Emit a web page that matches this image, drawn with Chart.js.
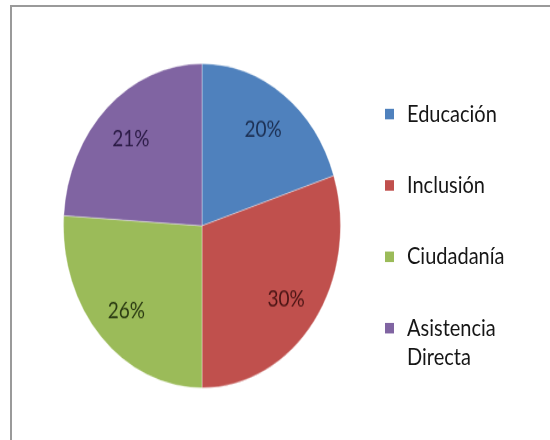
<!DOCTYPE html>
<html>
<head>
<meta charset="utf-8">
<script src="https://cdn.jsdelivr.net/npm/chart.js@4"></script>
<style>
  html, body { margin: 0; padding: 0; background: #fff; }
  body { width: 550px; height: 440px; position: relative; overflow: hidden; }
  #frame { position: absolute; left: 10px; top: 5px; width: 560px; height: 460px;
           border-top: 2px solid #9a9a9a; border-left: 2px solid #9a9a9a; }
  #stage { position: absolute; left: 0; top: 0; width: 550px; height: 376px;
           transform: scaleY(1.17); transform-origin: 0 0; }
  #pieBox { position: absolute; left: 63px; top: 54px; width: 278px; height: 278px; }
  #legend { position: absolute; left: 385px; top: 84px; font-family: Lato, "Open Sans", sans-serif;
            font-size: 20px; color: #161616; }
  .item { position: relative; padding-left: 22px; line-height: 25px; margin-bottom: 36px; }
  .sw { position: absolute; left: 0; top: 9px; width: 9px; height: 8.5px; }
</style>
</head>
<body>
<div id="frame"></div>
<div id="stage">
  <div id="pieBox"><canvas id="c" width="278" height="278"></canvas></div>
  <div id="legend"></div>
</div>
<script>
const categories = ["Educación", "Inclusión", "Ciudadanía", ["Asistencia", "Directa"]];
const values = [20, 30, 26, 24];
const valueLabels = ["20%", "30%", "26%", "21%"];
const colors = ["#4F81BD", "#C0504D", "#9BBB59", "#8064A2"];
const labelColors = ["#1c2f52", "#4a1414", "#2a3a12", "#2a1a45"];

const labelPlugin = {
  id: "sliceLabels",
  afterDatasetsDraw(chart) {
    const ctx = chart.ctx;
    const meta = chart.getDatasetMeta(0);
    ctx.save();
    ctx.font = "19px Lato, 'Open Sans', sans-serif";
    ctx.textAlign = "center";
    ctx.textBaseline = "middle";
    meta.data.forEach((arc, i) => {
      const p = arc.getProps(["x", "y", "startAngle", "endAngle", "outerRadius"], true);
      const mid = (p.startAngle + p.endAngle) / 2;
      const r = p.outerRadius * 0.75;
      ctx.fillStyle = labelColors[i];
      ctx.fillText(valueLabels[i], p.x + Math.cos(mid) * r, p.y + Math.sin(mid) * r + 2);
    });
    ctx.restore();
  }
};

new Chart(document.getElementById("c"), {
  type: "pie",
  data: {
    labels: categories.map(c => Array.isArray(c) ? c.join(" ") : c),
    datasets: [{
      data: values,
      backgroundColor: colors,
      borderColor: "rgba(255,255,255,0.35)",
      borderWidth: 1
    }]
  },
  options: {
    responsive: false,
    animation: false,
    layout: { padding: 0 },
    plugins: { legend: { display: false }, tooltip: { enabled: false } }
  },
  plugins: [labelPlugin]
});

const legend = document.getElementById("legend");
categories.forEach((c, i) => {
  const d = document.createElement("div");
  d.className = "item";
  const sw = document.createElement("span");
  sw.className = "sw";
  sw.style.background = colors[i];
  d.appendChild(sw);
  const lines = Array.isArray(c) ? c : [c];
  lines.forEach((t, k) => {
    if (k) d.appendChild(document.createElement("br"));
    d.appendChild(document.createTextNode(t));
  });
  legend.appendChild(d);
});
</script>
</body>
</html>
